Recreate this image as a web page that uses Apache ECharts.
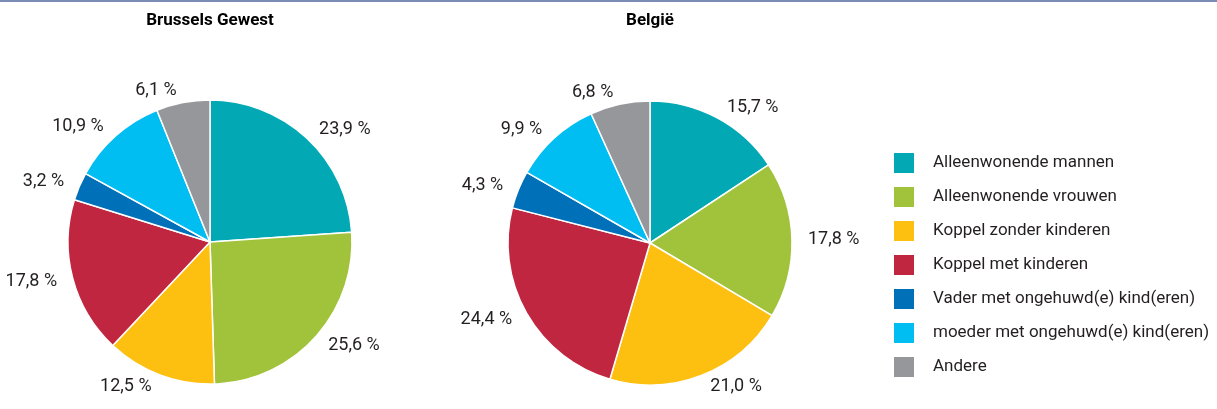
<!DOCTYPE html>
<html>
<head>
<meta charset="utf-8">
<script src="https://cdn.jsdelivr.net/npm/echarts@6/dist/echarts.min.js"></script>
<style>
    html, body { margin: 0; padding: 0; background: #fff; }
    #chart { width: 1217px; height: 409px; }
</style>
</head>
<body>
<div id="chart"></div>
<script type="text/javascript">

    var categories = [
        'Alleenwonende mannen',
        'Alleenwonende vrouwen',
        'Koppel zonder kinderen',
        'Koppel met kinderen',
        'Vader met ongehuwd(e) kind(eren)',
        'moeder met ongehuwd(e) kind(eren)',
        'Andere'
    ];
    var brusselValues = [23.9, 25.6, 12.5, 17.8, 3.2, 10.9, 6.1];
    var belgieValues = [15.7, 17.8, 21.0, 24.4, 4.3, 9.9, 6.8];
    var titles = ['Brussels Gewest', 'België'];
    var colors = ['#02a9b4', '#a1c33b', '#fdc010', '#c02640', '#0070b9', '#00bdf2', '#96979b'];

    var fontFam = 'Roboto, "Liberation Sans", sans-serif';

    function toData(values) {
        var out = [];
        for (var i = 0; i < categories.length; i++) {
            out.push({ name: categories[i], value: values[i] });
        }
        return out;
    }

    function pieSeries(values, center) {
        return {
            type: 'pie',
            radius: 142,
            center: center,
            startAngle: 90,
            clockwise: true,
            avoidLabelOverlap: false,
            itemStyle: { borderColor: '#fff', borderWidth: 1.5 },
            label: {
                show: true,
                position: 'outside',
                distanceToLabelLine: 4,
                color: '#231f20',
                fontFamily: fontFam,
                fontSize: 18,
                formatter: function (p) {
                    return p.value.toFixed(1).replace('.', ',') + ' %';
                }
            },
            labelLine: { show: false, length: 12, length2: 0 },
            emphasis: { disabled: true },
            data: toData(values)
        };
    }

    var chart = echarts.init(document.getElementById('chart'));
    chart.setOption({
        animation: false,
        color: colors,
        title: [
            {
                text: titles[0], left: 210, top: 12, padding: 0, textAlign: 'center',
                textStyle: { fontFamily: fontFam, fontSize: 17, fontWeight: 'bold', color: '#000' }
            },
            {
                text: titles[1], left: 650, top: 12, padding: 0, textAlign: 'center',
                textStyle: { fontFamily: fontFam, fontSize: 17, fontWeight: 'bold', color: '#000' }
            }
        ],
        legend: {
            orient: 'vertical',
            left: 892,
            top: 151,
            padding: 0,
            itemWidth: 22,
            itemHeight: 22,
            itemGap: 10,
            icon: 'rect',
            selectedMode: false,
            data: categories,
            textStyle: {
                fontFamily: fontFam, fontSize: 17, color: '#231f20',
                padding: [0, 0, 0, 13]
            }
        },
        graphic: [
            {
                type: 'rect',
                left: 0, top: 0,
                shape: { width: 1217, height: 2 },
                style: { fill: '#7b8db5' }
            }
        ],
        series: [
            pieSeries(brusselValues, [210, 242]),
            pieSeries(belgieValues, [650, 243])
        ]
    });

</script>
</body>
</html>
